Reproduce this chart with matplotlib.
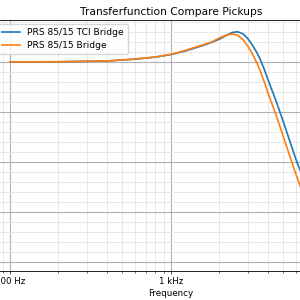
import matplotlib
matplotlib.use("Agg")
import matplotlib.pyplot as plt
import matplotlib.ticker as ticker

# frequency points (Hz) and magnitude (dB)
freq = [100, 200, 400, 600, 800, 1000, 1200, 1400, 1600, 1800, 2000, 2200, 2400, 2600,
        2800, 3000, 3200, 3400, 3600, 3800, 4000, 4500, 5000, 5500, 6000, 7000, 8000,
        9000, 10000]
tci_bridge = [0.0, 0.02, 0.1, 0.28, 0.48, 0.74, 1.05, 1.38, 1.68, 1.98, 2.28, 2.65,
              2.95, 3.02, 2.82, 2.35, 1.72, 1.02, 0.22, -0.72, -1.72, -3.9, -6.0, -8.0,
              -9.8, -12.6, -14.9, -16.8, -18.4]
bridge = [0.0, 0.02, 0.1, 0.3, 0.5, 0.77, 1.1, 1.45, 1.74, 2.02, 2.4, 2.68, 2.8, 2.67,
          2.25, 1.6, 0.85, 0.0, -0.95, -1.97, -3.05, -5.3, -7.5, -9.5, -11.3, -14.3,
          -16.6, -18.3, -19.8]
labels = ["PRS 85/15 TCI Bridge", "PRS 85/15 Bridge"]

fig = plt.figure(figsize=(3, 3), dpi=100)
ax = fig.add_axes([-0.0203, 0.0977, 1.180, 0.8356])

ax.plot(freq, tci_bridge, color="#1f77b4", lw=1.2, label=labels[0])
ax.plot(freq, bridge, color="#ff7f0e", lw=1.2, label=labels[1])

ax.set_xscale("log")
ax.set_xlim(79.4, 12590)
ax.set_ylim(-20.9, 4.2)
ax.yaxis.set_major_locator(ticker.MultipleLocator(5))
ax.yaxis.set_minor_locator(ticker.AutoMinorLocator(5))
ax.xaxis.set_major_formatter(ticker.EngFormatter(unit="Hz"))
ax.xaxis.set_minor_formatter(ticker.NullFormatter())

ax.grid(which="major", color="#b0b0b0", lw=0.8)
ax.grid(which="minor", color="#e4e4e4", lw=0.6)
ax.tick_params(labelsize=6.2, width=0.5, length=2.5, pad=2)
ax.tick_params(which="minor", width=0.4, length=1.5)
for s in ax.spines.values():
    s.set_linewidth(0.6)

ax.set_title("Transferfunction Compare Pickups", fontsize=7.7, pad=3.5)
ax.set_xlabel("Frequency", fontsize=6.3, labelpad=2)
ax.set_ylabel("Magnitude (dB)", fontsize=6.3)
ax.legend(loc="upper left", fontsize=6.6, borderaxespad=0.45, handlelength=2.0)

fig.savefig("out.png", dpi=100)
